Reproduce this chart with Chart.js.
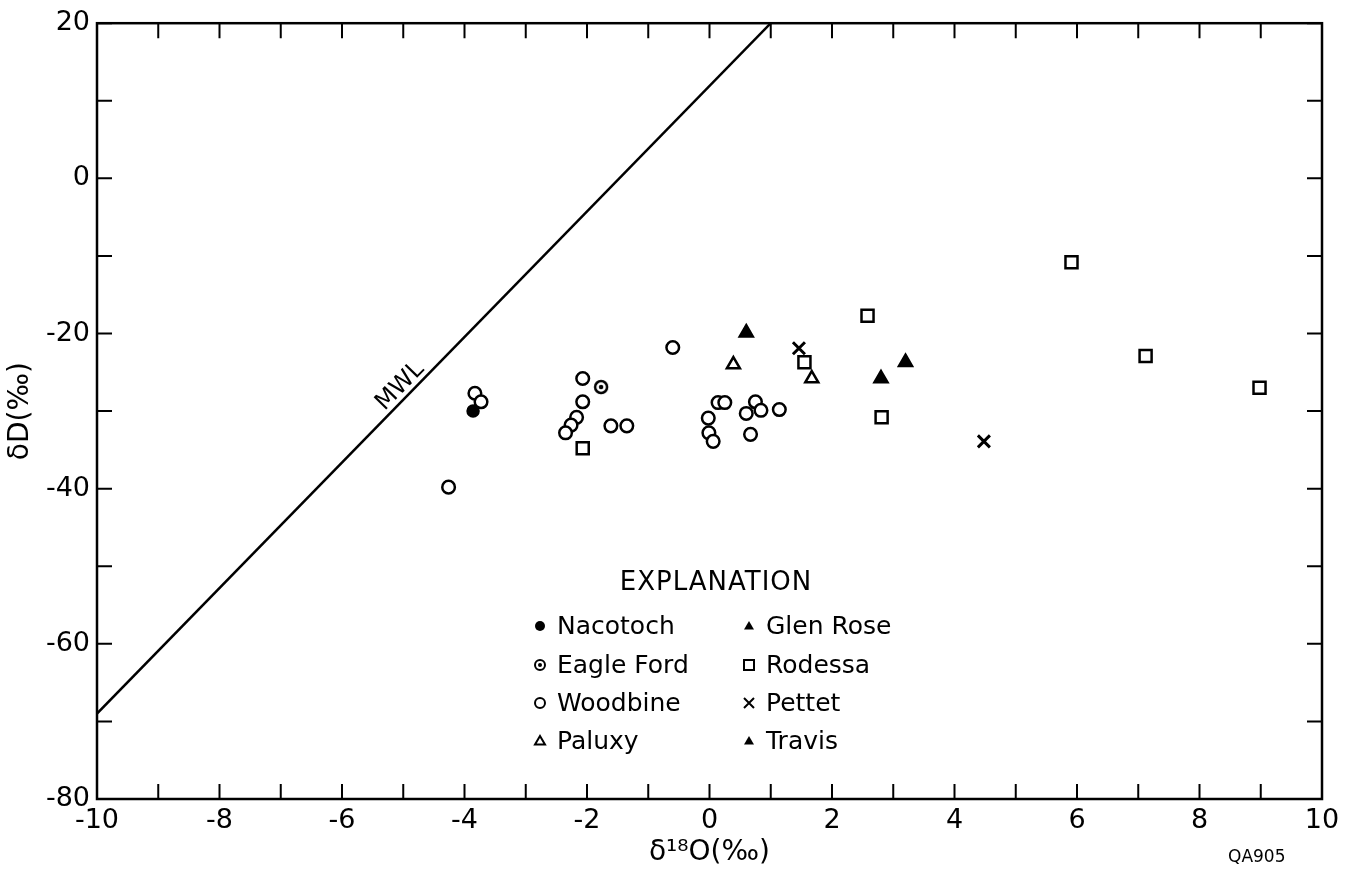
<!DOCTYPE html>
<html>
<head>
<meta charset="utf-8">
<script src="https://cdn.jsdelivr.net/npm/chart.js@4.4.1/dist/chart.umd.min.js"></script>
<style>
  html, body { margin: 0; padding: 0; background: #fff; }
  #contenedor { width: 1356px; height: 870px; }
</style>
</head>
<body>
<div id="contenedor"><canvas id="grafica"></canvas></div>
<script>
// valores (d18O, dD)
const nacotoch = [[-3.86, -30.0]];
const eagleFord = [[-1.77, -26.9]];
const woodbine = [
  [-3.83, -27.7], [-3.73, -28.8], [-4.26, -39.8], [-2.07, -25.8], [-2.07, -28.8],
  [-2.17, -30.8], [-2.26, -31.8], [-2.35, -32.8], [-1.61, -31.9], [-1.35, -31.9],
  [-0.60, -21.8], [-0.02, -30.9], [-0.01, -32.8], [0.06, -33.9], [0.14, -28.9],
  [0.25, -28.9], [0.75, -28.8], [0.84, -29.9], [1.14, -29.8], [0.60, -30.3], [0.67, -33.0]
];
const paluxy = [[0.39, -24.0], [1.67, -25.8]];
const glenRose = [[0.60, -19.9], [3.20, -23.7], [2.80, -25.8]];
const rodessa = [[-2.07, -34.8], [1.55, -23.7], [2.58, -17.7], [2.81, -30.8], [5.91, -10.8], [7.12, -22.9], [8.98, -27.0]];
const pettet = [[1.46, -21.9], [4.48, -33.9]];
const travis = [];
const mwl = [[-10, -69], [1.0, 20]];

const leyendaIzq = ['Nacotoch', 'Eagle Ford', 'Woodbine', 'Paluxy'];
const leyendaDer = ['Glen Rose', 'Rodessa', 'Pettet', 'Travis'];

const xMin = -10, xMax = 10, yMin = -80, yMax = 20;

const fuente = 'DejaVu Sans';

function aPuntos(lista) {
  return lista.map(p => ({ x: p[0], y: p[1] }));
}

// circulo con punto al centro (Eagle Ford)
function circuloConPunto(r) {
  let c = document.createElement('canvas');
  let t = Math.ceil(r * 2 + 6);
  c.width = t; c.height = t;
  let g = c.getContext('2d');
  g.lineWidth = 2.5;
  g.strokeStyle = '#000';
  g.fillStyle = '#fff';
  g.beginPath(); g.arc(t / 2, t / 2, r, 0, Math.PI * 2); g.fill(); g.stroke();
  g.fillStyle = '#000';
  g.beginPath(); g.arc(t / 2, t / 2, r * 0.38, 0, Math.PI * 2); g.fill();
  return c;
}

function dibujarMarca(ctx, tipo, x, y, s) {
  ctx.save();
  ctx.strokeStyle = '#000';
  ctx.fillStyle = '#000';
  ctx.lineWidth = 2;
  ctx.beginPath();
  if (tipo === 'Nacotoch') {
    ctx.arc(x, y, s, 0, Math.PI * 2); ctx.fill();
  } else if (tipo === 'Eagle Ford') {
    ctx.arc(x, y, s, 0, Math.PI * 2); ctx.stroke();
    ctx.beginPath(); ctx.arc(x, y, s * 0.4, 0, Math.PI * 2); ctx.fill();
  } else if (tipo === 'Woodbine') {
    ctx.arc(x, y, s, 0, Math.PI * 2); ctx.stroke();
  } else if (tipo === 'Paluxy' || tipo === 'Glen Rose' || tipo === 'Travis') {
    let h = s * 1.7;
    ctx.moveTo(x, y - h * 0.6);
    ctx.lineTo(x + s, y + h * 0.4);
    ctx.lineTo(x - s, y + h * 0.4);
    ctx.closePath();
    if (tipo === 'Paluxy') ctx.stroke(); else ctx.fill();
  } else if (tipo === 'Rodessa') {
    ctx.rect(x - s, y - s, 2 * s, 2 * s); ctx.stroke();
  } else if (tipo === 'Pettet') {
    ctx.moveTo(x - s, y - s); ctx.lineTo(x + s, y + s);
    ctx.moveTo(x + s, y - s); ctx.lineTo(x - s, y + s);
    ctx.stroke();
  }
  ctx.restore();
}

// marco, marcas interiores, leyenda y textos sueltos
const extras = {
  id: 'extras',
  afterDraw(chart) {
    let ctx = chart.ctx;
    let a = chart.chartArea;
    let xs = chart.scales.x;
    let ys = chart.scales.y;
    let largo = 15;
    ctx.save();
    ctx.strokeStyle = '#000';
    ctx.lineWidth = 2.5;
    ctx.strokeRect(a.left, a.top, a.right - a.left, a.bottom - a.top);
    ctx.lineWidth = 2;
    ctx.beginPath();
    for (let t of xs.ticks) {
      let px = xs.getPixelForValue(t.value);
      ctx.moveTo(px, a.bottom); ctx.lineTo(px, a.bottom - largo);
      ctx.moveTo(px, a.top); ctx.lineTo(px, a.top + largo);
    }
    for (let t of ys.ticks) {
      let py = ys.getPixelForValue(t.value);
      ctx.moveTo(a.left, py); ctx.lineTo(a.left + largo, py);
      ctx.moveTo(a.right, py); ctx.lineTo(a.right - largo, py);
    }
    ctx.stroke();

    // etiqueta MWL girada segun la recta
    let p0x = xs.getPixelForValue(mwl[0][0]), p0y = ys.getPixelForValue(mwl[0][1]);
    let p1x = xs.getPixelForValue(mwl[1][0]), p1y = ys.getPixelForValue(mwl[1][1]);
    let ang = Math.atan2(p1y - p0y, p1x - p0x);
    ctx.save();
    ctx.translate(xs.getPixelForValue(-5.05), ys.getPixelForValue(-26.8));
    ctx.rotate(ang);
    ctx.font = '24px "' + fuente + '"';
    ctx.fillStyle = '#000';
    ctx.textAlign = 'center';
    ctx.textBaseline = 'middle';
    ctx.fillText('MWL', 0, 0);
    ctx.restore();

    // leyenda
    ctx.fillStyle = '#000';
    ctx.textBaseline = 'middle';
    ctx.textAlign = 'center';
    ctx.font = '26px "' + fuente + '"';
    ctx.letterSpacing = '1px';
    ctx.fillText('EXPLANATION', 716, 583);
    ctx.letterSpacing = '0px';
    ctx.textAlign = 'left';
    ctx.font = '25px "' + fuente + '"';
    let filas = [627, 666, 704, 742];
    leyendaIzq.forEach((nombre, i) => {
      dibujarMarca(ctx, nombre, 540, filas[i] - 1, 5);
      ctx.fillText(nombre, 557, filas[i]);
    });
    leyendaDer.forEach((nombre, i) => {
      dibujarMarca(ctx, nombre, 749, filas[i] - 1, 5);
      ctx.fillText(nombre, 766, filas[i]);
    });

    ctx.font = '17px "' + fuente + '"';
    ctx.fillText('QA905', 1228, 858);
    ctx.restore();
  }
};

const estiloPunto = {
  borderColor: '#000',
  borderWidth: 2.5,
  pointHoverRadius: 6,
  showLine: false
};

new Chart(document.getElementById('grafica').getContext('2d'), {
  type: 'scatter',
  data: {
    datasets: [
      { label: 'MWL', data: aPuntos(mwl), showLine: true, borderColor: '#000', borderWidth: 2.5, pointRadius: 0, fill: false },
      { ...estiloPunto, label: 'Woodbine', data: aPuntos(woodbine), pointStyle: 'circle', pointRadius: 6.3, backgroundColor: '#fff' },
      { ...estiloPunto, label: 'Nacotoch', data: aPuntos(nacotoch), pointStyle: 'circle', pointRadius: 5.5, backgroundColor: '#000' },
      { ...estiloPunto, label: 'Eagle Ford', data: aPuntos(eagleFord), pointStyle: circuloConPunto(6) },
      { ...estiloPunto, label: 'Paluxy', data: aPuntos(paluxy), pointStyle: 'triangle', pointRadius: 7.5, backgroundColor: '#fff' },
      { ...estiloPunto, label: 'Glen Rose', data: aPuntos(glenRose), pointStyle: 'triangle', pointRadius: 7.5, backgroundColor: '#000' },
      { ...estiloPunto, label: 'Rodessa', data: aPuntos(rodessa), pointStyle: 'rect', pointRadius: 8.5, backgroundColor: '#fff' },
      { ...estiloPunto, label: 'Pettet', data: aPuntos(pettet), pointStyle: 'crossRot', pointRadius: 8.5, borderWidth: 3 },
      { ...estiloPunto, label: 'Travis', data: aPuntos(travis), pointStyle: 'triangle', pointRadius: 7.5, backgroundColor: '#000' }
    ]
  },
  options: {
    responsive: true,
    maintainAspectRatio: false,
    animation: false,
    layout: { padding: { left: 0, right: 34, top: 18, bottom: 0 } },
    plugins: {
      legend: { display: false },
      tooltip: { enabled: false }
    },
    scales: {
      x: {
        type: 'linear',
        min: xMin,
        max: xMax,
        afterFit: (s) => { s.height = 71; },
        grid: { display: false, drawTicks: false },
        border: { display: false },
        ticks: {
          stepSize: 1,
          autoSkip: false,
          maxRotation: 0,
          padding: 6,
          color: '#000',
          font: { family: fuente, size: 27 },
          callback: (v) => (v % 2 === 0 ? String(v) : '')
        },
        title: {
          display: true,
          text: 'δ¹⁸O(‰)',
          color: '#000',
          font: { family: fuente, size: 28 },
          padding: { top: 0, bottom: 0 }
        }
      },
      y: {
        type: 'linear',
        min: yMin,
        max: yMax,
        afterFit: (s) => { s.width = 97; },
        grid: { display: false, drawTicks: false },
        border: { display: false },
        ticks: {
          stepSize: 10,
          autoSkip: false,
          padding: 7,
          color: '#000',
          font: { family: fuente, size: 27 },
          callback: (v) => (v % 20 === 0 ? String(v) : '')
        },
        title: {
          display: true,
          text: 'δD(‰)',
          color: '#000',
          font: { family: fuente, size: 28 },
          padding: { top: 4, bottom: 0 }
        }
      }
    }
  },
  plugins: [extras]
});
</script>
</body>
</html>
